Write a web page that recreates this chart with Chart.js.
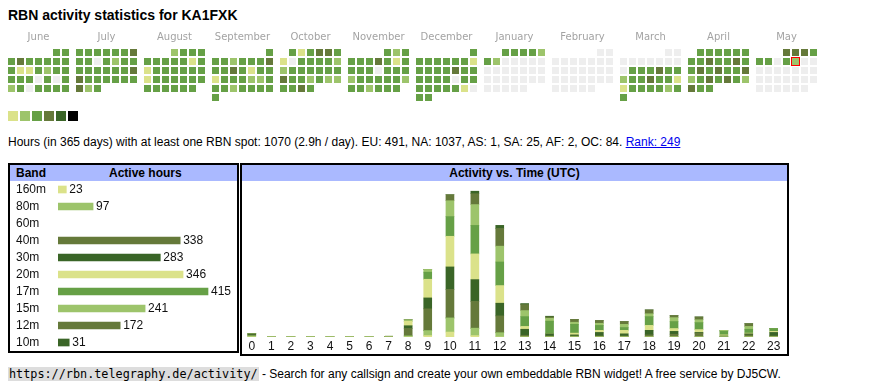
<!DOCTYPE html>
<html><head><meta charset="utf-8">
<script src="https://cdn.jsdelivr.net/npm/chart.js@4.4.0/dist/chart.umd.min.js"></script>
<style>
body{margin:0;background:#fff;font-family:"Liberation Sans",Arial,sans-serif;color:#000;width:870px;height:390px;position:relative;overflow:hidden}
.abs{position:absolute}
#title{left:8px;top:7px;font-size:14px;font-weight:bold;line-height:16px;white-space:nowrap}
#legend span{position:absolute;top:111px;width:10px;height:10px}
#stats{left:8px;top:135px;font-size:12px;line-height:14px;white-space:nowrap}
#stats a{color:#00e;text-decoration:underline}
.box{border:2px solid #000;box-sizing:border-box;background:#fff}
.hdr{position:absolute;left:0;right:0;top:0;height:16px;background:#aab9ff;font-weight:bold;font-size:12px;line-height:16px}
#footer{left:8px;top:367px;font-size:12px;line-height:15px;white-space:nowrap}
#footer code{font-family:"DejaVu Sans Mono",monospace;font-size:11.8px;background:#dddddd;padding:0 1px}
</style></head>
<body>
<div id="title" class="abs">RBN activity statistics for KA1FXK</div>
<canvas id="cal" class="abs" style="left:0;top:24px" width="830" height="82"></canvas>
<div id="legend"></div>
<div id="stats" class="abs">Hours (in 365 days) with at least one RBN spot: 1070 (2.9h / day). EU: 491, NA: 1037, AS: 1, SA: 25, AF: 2, OC: 84. <a href="#">Rank: 249</a></div>
<div id="bandbox" class="abs box" style="left:8px;top:163px;width:231px;height:190px">
  <div class="hdr"><span style="position:absolute;left:6px">Band</span><span style="position:absolute;left:99px">Active hours</span></div>
</div>
<canvas id="bands" class="abs" style="left:10px;top:181px" width="228" height="170"></canvas>
<div id="actbox" class="abs box" style="left:240px;top:163px;width:549px;height:193px">
  <div class="hdr" style="text-align:center">Activity vs. Time (UTC)</div>
</div>
<canvas id="act" class="abs" style="left:242px;top:181px" width="545" height="173"></canvas>
<div id="footer" class="abs"><code>https://rbn.telegraphy.de/activity/</code> - Search for any callsign and create your own embeddable RBN widget! A free service by DJ5CW.</div>
<script>
// ---------- data ----------
const palette = ['#eeeeee','#dbe28a','#9dc46b','#66a046','#65793a','#3a6527','#000000'];
const monthNames = ['June','July','August','September','October','November','December','January','February','March','April','May'];
const monthYears = [2024,2024,2024,2024,2024,2024,2024,2025,2025,2025,2025,2025];
const monthIdx = [5,6,7,8,9,10,11,0,1,2,3,4];
const today = [2025,4,9];
// daily activity level per month (0 = none, 1..5 palette level)
const lvJun = [3,3, 3,4,3,3,3,3,3, 3,1,1,3,2,3,3, 3,3,3,0,3,0,3, 2,3,0,3,3,3,3];
const lvJul = [3,3,3,3,3,3,4, 3,3,0,3,2,3,3, 3,3,3,3,3,3,4, 4,3,3,3,3,3,3, 4,2,3];
const lvAug = [2,3,3,3, 3,3,3,3,3,1,3, 1,3,3,3,3,3,3, 1,3,3,3,3,3,3, 3,3,3,3,3,3];
const lvSep = [3, 3,3,2,3,3,3,4, 3,3,4,3,1,3,3, 1,3,3,3,2,2,3, 3,3,2,3,3,3,3, 3];
const lvOct = [3,1,3,4,4,3, 1,0,3,3,3,3,2, 2,3,3,3,3,3,3, 4,3,3,2,3,2,2, 3,3,4,3];
const lvNov = [3,2,3, 3,3,3,4,3,1,3, 3,3,3,0,3,3,3, 2,3,3,3,3,3,2, 3,3,2,3,3,3];
const lvDec = [3, 3,3,3,3,3,3,1, 3,3,3,3,4,3,3, 3,3,3,3,0,3,3, 3,3,3,3,3,1,0, 3,3];
const lvJan = [3,3,3,3,2, 3,2,0,0,0,0,0, 0,0,0,0,0,0,0, 0,0,0,0,0,0,0, 0,0,0,0,0];
const lvFeb = [0,0, 0,0,0,0,0,0,0, 0,0,0,0,0,0,0, 0,0,0,0,0,0,0, 0,0,0,0,0];
const lvMar = [0,0, 0,0,0,0,0,0,0, 0,3,3,3,4,3,3, 2,3,3,4,3,3,1, 1,3,3,3,3,2,3, 3];
const lvApr = [3,3,3,3,3,3, 3,3,4,3,3,4,3, 3,4,3,4,3,3,4, 2,3,4,3,4,3,2, 4,3,3];
const lvMay = [4,4,4,3, 3,3,0,3,2,0,0, 0,0,0,0,0,0,0, 0,0,0,0,0,0,0, 0,0,0,0,0,0];
const monthLevels = [lvJun,lvJul,lvAug,lvSep,lvOct,lvNov,lvDec,lvJan,lvFeb,lvMar,lvApr,lvMay];

const bands = ['160m','80m','60m','40m','30m','20m','17m','15m','12m','10m'];
const bandHours = [23,97,null,338,283,346,415,241,172,31];

const hourLabels = ['0','1','2','3','4','5','6','7','8','9','10','11','12','13','14','15','16','17','18','19','20','21','22','23'];
const act160 = [0,0,0,0,0,0,0,0,0,4,14,4,0,0,0,0,0,0,0,0,0,0,0,0];
const act80  = [3,0,0,0,0,0,0,0,3,14,40,21,12,0,0,0,0,0,0,0,0,0,0,0];
const act60  = [0,0,0,0,0,0,0,0,0,0,0,0,0,0,0,0,0,0,0,0,0,0,0,0];
const act40  = [3,0,0,0,0,0,0,2,21,62,81,76,48,5,3,3,3,3,6,8,11,0,6,3];
const act30  = [3,0,0,0,0,0,0,0,8,31,64,62,36,17,6,3,10,6,13,8,2,3,3,10];
const act20  = [0,0,0,0,0,0,0,0,13,53,87,73,50,8,0,5,6,10,14,8,8,3,2,3];
const act17  = [0,0,0,0,0,0,0,0,0,20,56,81,67,28,36,25,14,8,25,20,20,10,11,8];
const act15  = [0,0,0,0,0,0,0,0,4,8,45,59,45,17,8,6,6,9,8,11,8,3,8,0];
const act12  = [0,0,0,0,0,0,0,0,0,0,17,31,50,17,4,8,8,8,11,6,8,0,8,0];
const act10  = [0,0,0,0,0,0,0,0,0,0,0,7,9,3,2,0,0,0,0,0,0,0,0,0];
const actByBand = [act160,act80,act60,act40,act30,act20,act17,act15,act12,act10];

// ---------- styles ----------
const bandColors = ['#dbe28a','#9dc46b','#66a046','#65793a','#3a6527','#dbe28a','#66a046','#9dc46b','#65793a','#3a6527'];
const FONT = '"Liberation Sans", Arial, sans-serif';

// legend squares
const lg = document.getElementById('legend');
for (let i=1;i<palette.length;i++){ const s=document.createElement('span'); s.style.left=(8+12*(i-1))+'px'; s.style.background=palette[i]; lg.appendChild(s); }

// ---------- calendar heatmap ----------
const MONTH_W = 68/9; // month block pitch in column units
const calPts=[], calCol=[]; let todayIdx=-1;
monthLevels.forEach((lv,k)=>{
  const y=monthYears[k], m=monthIdx[k];
  const wd0=(new Date(y,m,1).getDay()+6)%7;
  lv.forEach((v,d)=>{
    const wd=(wd0+d)%7, row=Math.floor((wd0+d)/7);
    if (y===today[0]&&m===today[1]&&d+1===today[2]) todayIdx=calPts.length;
    calPts.push({x:k*MONTH_W+wd, y:row}); calCol.push(palette[v]);
  });
});
const calPlugin={id:'ml',afterDatasetsDraw(ch){const c=ch.ctx,xs=ch.scales.x,ys=ch.scales.y;c.save();
  if(todayIdx>=0){const el=ch.getDatasetMeta(0).data[todayIdx];c.strokeStyle='#ff0000';c.lineWidth=1;c.strokeRect(el.x-4,el.y-4,8,8);}
  c.font='10px "DejaVu Sans", sans-serif';c.fillStyle='#a3a3a3';c.textAlign='center';c.textBaseline='middle';
  monthNames.forEach((n,k)=>c.fillText(n,xs.getPixelForValue(k*MONTH_W+3),ys.getPixelForValue(-1.68)));c.restore();}};
new Chart(document.getElementById('cal'),{type:'scatter',
  data:{datasets:[{data:calPts,pointStyle:'rect',pointRadius:3.5/Math.SQRT1_2,pointBackgroundColor:calCol,pointBorderWidth:0,showLine:false,clip:false}]},
  options:{responsive:false,animation:false,events:[],layout:{padding:0,autoPadding:false},
    plugins:{legend:{display:false},tooltip:{enabled:false}},
    scales:{x:{type:'linear',display:false,bounds:'data',min:-11.5/9,max:(830-11.5)/9},
            y:{type:'linear',display:false,bounds:'data',reverse:true,min:-28.5/9,max:(82-28.5)/9}}},
  plugins:[calPlugin]});

// ---------- band chart ----------
const bandLabelPlugin={id:'bl',afterDatasetsDraw(ch){const c=ch.ctx,ys=ch.scales.y;const meta=ch.getDatasetMeta(0);c.save();c.font='12px '+FONT;c.fillStyle='#111';c.textBaseline='middle';
  bands.forEach((b,i)=>{const y=ys.getPixelForValue(i);c.textAlign='left';c.fillText(b,6,y);
    if(bandHours[i]!=null){const el=meta.data[i];c.fillText(String(bandHours[i]),el.x+3,y);}});c.restore();}};
new Chart(document.getElementById('bands'),{type:'bar',
  data:{labels:bands,datasets:[{data:bandHours,backgroundColor:bandColors,barThickness:7,borderWidth:0}]},
  options:{indexAxis:'y',responsive:false,animation:false,events:[],layout:{padding:{left:48,right:0,top:0,bottom:0}},
    plugins:{legend:{display:false},tooltip:{enabled:false}},
    scales:{x:{display:false,min:0,max:498},y:{display:false}}},
  plugins:[bandLabelPlugin]});

// ---------- activity vs time ----------
const colW = hourLabels.map(l=>l.length===1?19.55:24.9);
const hourPos = []; {let acc=0; colW.forEach(w=>{hourPos.push(acc+w/2); acc+=w;});}
new Chart(document.getElementById('act'),{type:'bar',
  data:{datasets:actByBand.map((arr,i)=>({label:bands[i],data:arr.map((v,h)=>({x:hourPos[h],y:v})),backgroundColor:bandColors[i],barThickness:8,borderWidth:0}))},
  options:{responsive:false,animation:false,events:[],layout:{padding:0,autoPadding:false},
    plugins:{legend:{display:false},tooltip:{enabled:false}},
    scales:{
      x:{type:'linear',stacked:true,offset:false,bounds:'data',min:0,max:545,grid:{display:false,drawTicks:false,offset:false},border:{display:false},
         afterBuildTicks:s=>{s.ticks=hourPos.map(v=>({value:v}));},
         afterFit:s=>{s.height=17;s.paddingLeft=0;s.paddingRight=0;},
         ticks:{autoSkip:false,maxRotation:0,padding:2,color:'#111',font:{size:12,family:FONT},callback:(v,i)=>hourLabels[i]}},
      y:{display:false,stacked:true,min:0,max:443}}}});
</script>
</body></html>
